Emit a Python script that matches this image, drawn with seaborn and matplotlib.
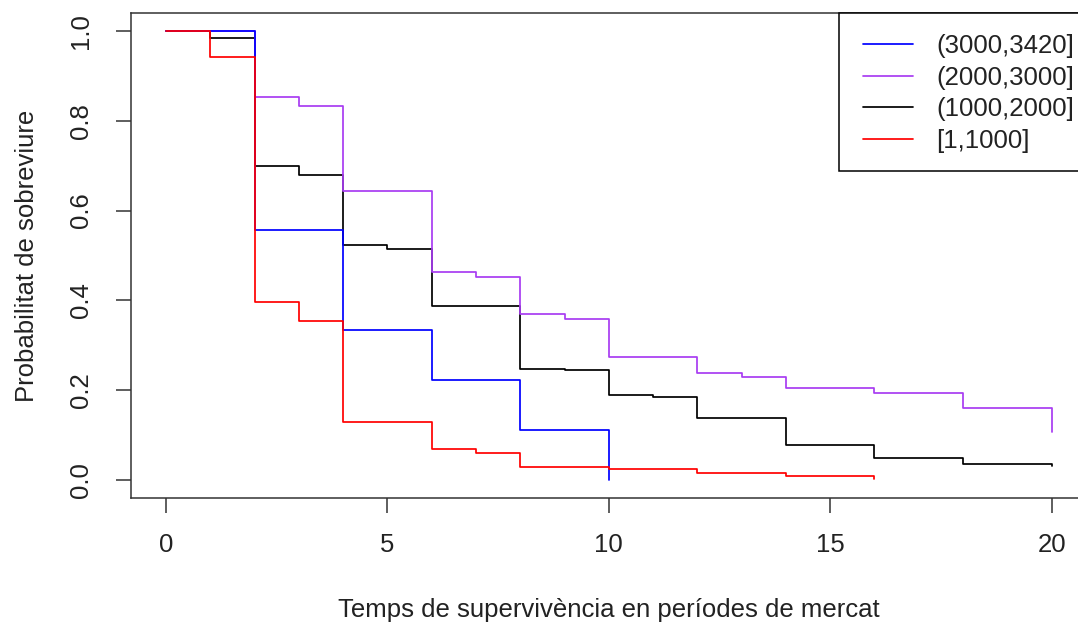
import matplotlib
matplotlib.use("Agg")
import matplotlib.pyplot as plt
from matplotlib.lines import Line2D
from matplotlib.patches import Rectangle
import seaborn as sns
import pandas as pd

sns.set_style("white")
plt.rcParams["font.family"] = ["Liberation Sans", "DejaVu Sans"]

# Kaplan-Meier steps, one group per income band
blue_t = [0, 2, 4, 6, 8, 10]
blue_s = [1.0, 0.556, 0.333, 0.222, 0.111, 0.0]

purple_t = [0, 2, 3, 4, 6, 7, 8, 9, 10, 12, 13, 14, 16, 18, 20]
purple_s = [1.0, 0.853, 0.834, 0.644, 0.464, 0.453, 0.369, 0.358, 0.274,
            0.238, 0.230, 0.204, 0.193, 0.160, 0.108]

black_t = [0, 1, 2, 3, 4, 5, 6, 8, 9, 10, 11, 12, 14, 16, 18, 20]
black_s = [1.0, 0.985, 0.700, 0.679, 0.523, 0.515, 0.388, 0.248, 0.244,
           0.189, 0.185, 0.139, 0.079, 0.050, 0.035, 0.032]

red_t = [0, 1, 2, 3, 4, 6, 7, 8, 10, 12, 14, 16]
red_s = [1.0, 0.941, 0.396, 0.354, 0.130, 0.069, 0.061, 0.028, 0.024,
         0.015, 0.009, 0.003]

groups = ["(3000,3420]", "(2000,3000]", "(1000,2000]", "[1,1000]"]
colors = ["#0000FF", "#A83CF2", "#000000", "#FF0000"]
x_ticks = [0, 5, 10, 15, 20]
y_ticks = [0.0, 0.2, 0.4, 0.6, 0.8, 1.0]

frames = []
for g, t, s in zip(groups, [blue_t, purple_t, black_t, red_t],
                   [blue_s, purple_s, black_s, red_s]):
    frames.append(pd.DataFrame({"temps": t, "surv": s, "grup": g}))
df = pd.concat(frames, ignore_index=True)

palette = dict(zip(groups, colors))
draw_order = ["(1000,2000]", "(2000,3000]", "(3000,3420]", "[1,1000]"]

W, H = 1078, 623
fig = plt.figure(figsize=(W / 100, H / 100), dpi=100)
ax = fig.add_axes([130.6 / W, (H - 498) / H, (1087 - 130.6) / W, (498 - 13) / H])

sns.lineplot(data=df, x="temps", y="surv", hue="grup", hue_order=draw_order,
             palette=palette, estimator=None, drawstyle="steps-post",
             linewidth=1.25, legend=False, ax=ax)

ax.set_xlim(-0.8, 20.8)
ax.set_ylim(-0.04, 1.04)
ax.set_xticks(x_ticks)
ax.set_xticklabels([str(v) for v in x_ticks])
ax.set_yticks(y_ticks)
ax.set_yticklabels([f"{v:.1f}" for v in y_ticks], rotation=90, va="center")

fs = 18.5
tc = "#222222"
ax.tick_params(axis="both", which="major", direction="out", length=11,
               width=1.1, color="#333333", labelsize=fs, labelcolor=tc,
               bottom=True, left=True)
ax.tick_params(axis="x", pad=14)
ax.tick_params(axis="y", pad=16)
for sp in ax.spines.values():
    sp.set_color("#333333")
    sp.set_linewidth(1.1)

ax.set_xlabel("Temps de supervivència en períodes de mercat", fontsize=fs,
              color=tc, labelpad=30)
ax.set_ylabel("Probabilitat de sobreviure", fontsize=fs, color=tc, labelpad=22)

# legend in the R style: square box tied to the top of the plot box
box = Rectangle((839 / W, 1 - 171 / H), (1100 - 839) / W, (171 - 13) / H,
                transform=fig.transFigure, facecolor="white",
                edgecolor="black", linewidth=1.1, clip_on=False, zorder=4)
ax.add_patch(box)

handles = [Line2D([], [], color=c, linewidth=1.25) for c in colors]
leg = ax.legend(handles, groups, loc="upper left",
                bbox_to_anchor=(863 / W, 1 - 34 / H),
                bbox_transform=fig.transFigure, frameon=False,
                fontsize=fs, borderpad=0, borderaxespad=0,
                handlelength=1.95, handletextpad=0.9, labelspacing=0.3)
for txt in leg.get_texts():
    txt.set_color(tc)
leg.set_zorder(5)

fig.savefig("out.png", dpi=100)
